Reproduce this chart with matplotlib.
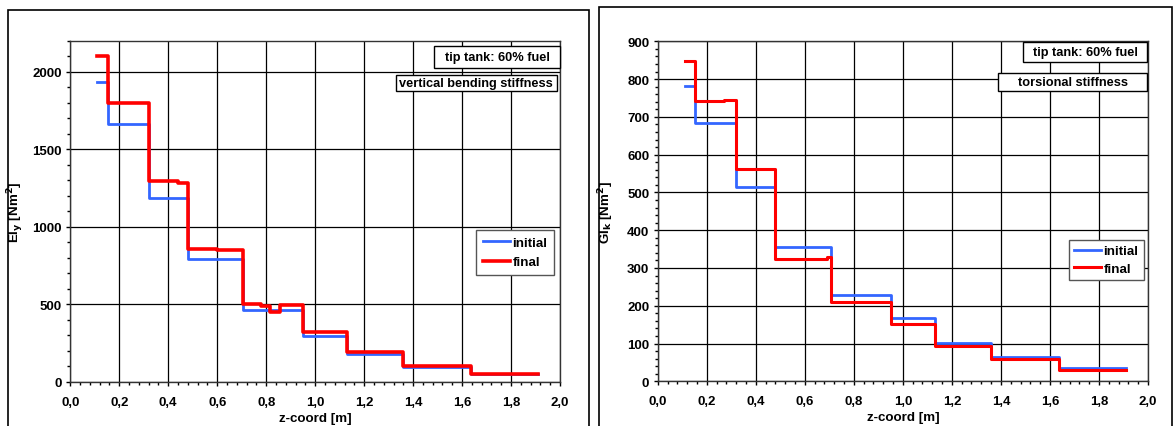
import matplotlib
matplotlib.use('Agg')
import matplotlib.pyplot as plt
from matplotlib.patches import Rectangle
from matplotlib.ticker import MultipleLocator, FuncFormatter

plt.rcParams['font.family'] = ['Liberation Sans', 'DejaVu Sans']
plt.rcParams['font.weight'] = 'bold'
plt.rcParams['font.size'] = 9

# bending stiffness EIy (left chart): step edges [m] and segment values [Nm^2]
ei_init_z = [0.11, 0.152, 0.32, 0.48, 0.705, 0.95, 1.13, 1.36, 1.635, 1.91]
ei_init = [1935, 1660, 1185, 790, 462, 297, 179, 93, 48]
ei_final_z = [0.11, 0.152, 0.32, 0.44, 0.48, 0.60, 0.705, 0.78, 0.815, 0.855, 0.95, 1.13, 1.36, 1.635, 1.91]
ei_final = [2100, 1800, 1295, 1285, 856, 850, 500, 490, 448, 495, 320, 190, 100, 52]

# torsional stiffness GIk (right chart)
gk_init_z = [0.11, 0.152, 0.32, 0.48, 0.705, 0.95, 1.13, 1.36, 1.635, 1.91]
gk_init = [781, 684, 514, 355, 229, 167, 101, 65, 35]
gk_final_z = [0.11, 0.152, 0.27, 0.32, 0.48, 0.69, 0.705, 0.95, 1.13, 1.36, 1.635, 1.91]
gk_final = [849, 741, 745, 562, 324, 328, 211, 151, 93, 59, 31]

x_ticks = [0.0, 0.2, 0.4, 0.6, 0.8, 1.0, 1.2, 1.4, 1.6, 1.8, 2.0]

W, H = 1174, 427
fig = plt.figure(figsize=(W / 100, H / 100), dpi=100)


def fx(px):
    return px / W


def fy(py):
    return 1 - py / H


def frame_box(x0, y0, x1, y1, lw=1.0, ec='black'):
    r = Rectangle((fx(x0), fy(y1)), fx(x1) - fx(x0), fy(y0) - fy(y1), transform=fig.transFigure,
                  fill=False, edgecolor=ec, linewidth=lw, clip_on=False, zorder=5)
    fig.add_artist(r)


def label_box(x0, y0, x1, y1, text):
    r = Rectangle((fx(x0), fy(y1)), fx(x1) - fx(x0), fy(y0) - fy(y1), transform=fig.transFigure,
                  facecolor='white', edgecolor='black', linewidth=1.0, zorder=6)
    fig.add_artist(r)
    fig.text(fx((x0 + x1) / 2), fy((y0 + y1) / 2), text, ha='center', va='center',
             fontsize=9.2, fontweight='bold', zorder=7)


def step_line(ax, z, v, **kw):
    ax.step(z, list(v) + [v[-1]], where='post', **kw)


def setup(ax, ymax, ymajor, yminor, ylabel):
    ax.set_xlim(0, 2.0)
    ax.set_ylim(0, ymax)
    ax.set_xticks(x_ticks)
    ax.xaxis.set_major_formatter(FuncFormatter(lambda v, p: f"{v:.1f}".replace('.', ',')))
    ax.xaxis.set_minor_locator(MultipleLocator(0.04))
    ax.yaxis.set_major_locator(MultipleLocator(ymajor))
    ax.yaxis.set_minor_locator(MultipleLocator(yminor))
    ax.grid(True, which='major', color='black', linewidth=0.9)
    ax.tick_params(which='major', direction='out', length=3, width=1, labelsize=9.5)
    ax.tick_params(axis='y', which='major', pad=3)
    ax.tick_params(axis='x', which='major', pad=7)
    ax.tick_params(which='minor', direction='out', length=2.5, width=1)
    for lab in ax.get_xticklabels() + ax.get_yticklabels():
        lab.set_fontweight('bold')
    for s in ax.spines.values():
        s.set_color('#333333')
        s.set_linewidth(1.0)
    ax.set_xlabel('z-coord [m]', fontsize=9.6, fontweight='bold', labelpad=3)
    ax.set_ylabel(ylabel, fontsize=9.6, fontweight='bold')


# outer chart frames
frame_box(8, 11, 589, 440, lw=1.2)
frame_box(599, 8, 1172, 440, lw=1.2)

# left chart
ax1 = fig.add_axes([fx(70.3), fy(382.7), fx(560) - fx(70.3), fy(41.7) - fy(382.7)])
step_line(ax1, ei_init_z, ei_init, color='#3366FF', linewidth=2.0, label='initial', zorder=3)
step_line(ax1, ei_final_z, ei_final, color='#FF0000', linewidth=2.6, label='final', zorder=4)
setup(ax1, 2200, 500, 100, r'EI$_\mathbf{y}$ [Nm$^\mathbf{2}$]')
leg1 = ax1.legend(loc='upper right', bbox_to_anchor=(fx(554), fy(230.7)), bbox_transform=fig.transFigure,
                  borderaxespad=0, fancybox=False, framealpha=1, edgecolor='#555555',
                  handlelength=2.0, handletextpad=0.2, borderpad=0.5, labelspacing=0.55,
                  prop={'weight': 'bold', 'size': 9.6})
leg1.get_frame().set_linewidth(1.0)
ax1.yaxis.set_label_coords(-0.09, 0.5)

# right chart
ax2 = fig.add_axes([fx(657.7), fy(382.3), fx(1148) - fx(657.7), fy(42.3) - fy(382.3)])
step_line(ax2, gk_init_z, gk_init, color='#3366FF', linewidth=2.0, label='initial', zorder=3)
step_line(ax2, gk_final_z, gk_final, color='#FF0000', linewidth=2.2, label='final', zorder=4)
setup(ax2, 900, 100, 20, r'GI$_\mathbf{k}$ [Nm$^\mathbf{2}$]')
leg2 = ax2.legend(loc='upper right', bbox_to_anchor=(fx(1143.8), fy(240.7)), bbox_transform=fig.transFigure,
                  borderaxespad=0, fancybox=False, framealpha=1, edgecolor='#555555',
                  handlelength=2.0, handletextpad=0.2, borderpad=0.4, labelspacing=0.4,
                  prop={'weight': 'bold', 'size': 9.6})
leg2.get_frame().set_linewidth(1.0)
ax2.yaxis.set_label_coords(-0.085, 0.5)

# annotation boxes
label_box(434, 47, 560, 69, 'tip tank: 60% fuel')
label_box(396, 75.7, 556.7, 92.3, 'vertical bending stiffness')
label_box(1023, 43.3, 1147, 63, 'tip tank: 60% fuel')
label_box(998, 74, 1147, 91.7, 'torsional stiffness')

fig.savefig('out.png', dpi=100)
